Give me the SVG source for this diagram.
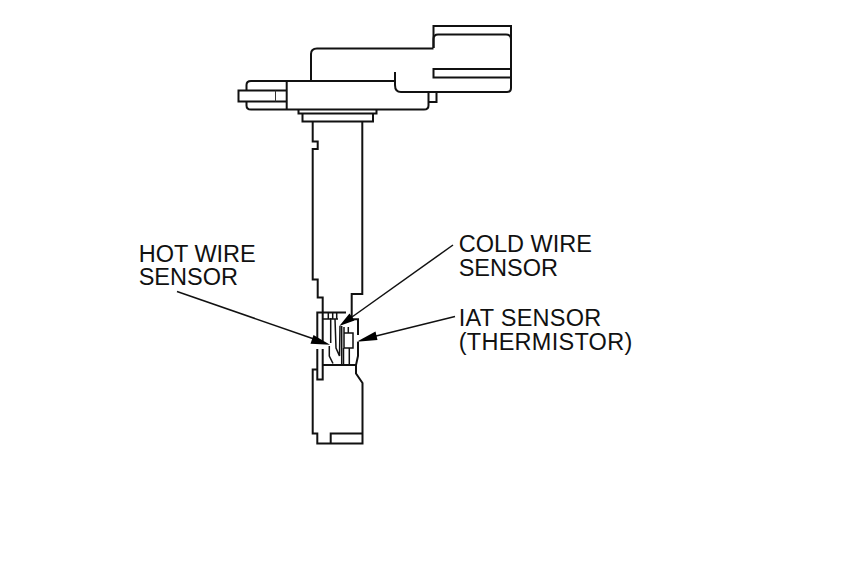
<svg xmlns="http://www.w3.org/2000/svg" width="860" height="580" viewBox="0 0 860 580">
<style>
.l{fill:none;stroke:#111;stroke-width:2;stroke-linejoin:miter}
.t{fill:none;stroke:#333;stroke-width:1}
.a{fill:#000;stroke:none}
.c{fill:none;stroke:#111;stroke-width:1.5}
.w{letter-spacing:.27px}
text{font-family:"Liberation Sans",Arial,sans-serif;font-size:23.5px;fill:#111}
</style>
<rect width="860" height="580" fill="#fff"/>
<g id="sensor">
<path class="l" d="M433.500 48V26H511V88Q511 92 507 92H401Q395 92 395 85V72"/>
<path class="l" d="M433.500 48V39Q433.500 34.500 438 34.500H506Q511 34.500 511 39"/>
<path class="l" d="M511 69H433.500V77.500H511"/>
<path class="l" d="M311 81V54Q311 48.500 317 48.500H433.500"/>
<path class="l" d="M395 81H251Q246.500 81 246.500 85V90.500M246.500 101.500V105.500Q246.500 109.600 251 109.600H424Q428.500 109.600 428.500 105.500V92"/>
<path class="l" d="M286.700 81V109.600"/>
<path class="l" d="M286 90.500H238.500V101.500H286"/>
<path class="t" d="M275.500 90.500V101.500"/>
<path class="l" d="M428.500 92H436.500V102H428.500"/>
<path class="l" d="M298.500 109.600V113.500H376.500V109.600"/>
<path class="l" d="M302.500 113.500V121.500H373V113.500"/>
<path class="l" d="M312.700 121.500V141.500H317.700V149H312.700V279.500H317.700V297.500H322.700V312.500"/>
<path class="l" d="M362.300 121.500V294H351.700V319.300H358V335M358 342V356L356 365V373.500L362.500 383V443.500H317.300V433.500H312.700V369.500H317.300"/>
<path class="l" d="M317.300 341V312.500H346"/>
<path class="l" d="M317.300 349V379.500H322.700V349M322.700 341V312.500"/>
<path class="l" d="M330.700 443.500V433.500H362.500"/>
<path class="l" d="M322.700 365H356"/>
<path class="c" d="M322.700 319H338M328.300 312.500V319M332.700 312.500V319M336.700 312.500V319"/>
<path class="c" d="M330.700 318V343M329.300 346V356L333 363.500"/>
<path class="c" d="M335 319L336 348L339.500 356L340 326"/>
<path class="c" d="M341.700 326V365"/>
<path class="c" d="M344 327V348M348.300 327V333M344 333H353V348H343.500M343.500 348V365M349.300 348V365"/>
</g>
<g id="connectors">
<path class="c" d="M177 291.500L314 339"/>
<path class="a" d="M330 344.800L310.500 343.800L313.500 335Z"/>
<path class="c" d="M453 245L352 317"/>
<path class="a" d="M339.300 326L349.500 313.500L354.500 320.500Z"/>
<path class="c" d="M455 316.500L372 337"/>
<path class="a" d="M356.700 341.700L375.500 331.500L377.500 340Z"/>
</g>
<g id="labels">
<text x="138.700" y="261.500">HOT WIRE</text>
<text x="138.700" y="285">SENSOR</text>
<text x="458.700" y="251.700">COLD WIRE</text>
<text x="458.700" y="275.700">SENSOR</text>
<text class="w" x="458.700" y="326">IAT SENSOR</text>
<text class="w" x="458.700" y="350">(THERMISTOR)</text>
</g>
</svg>
